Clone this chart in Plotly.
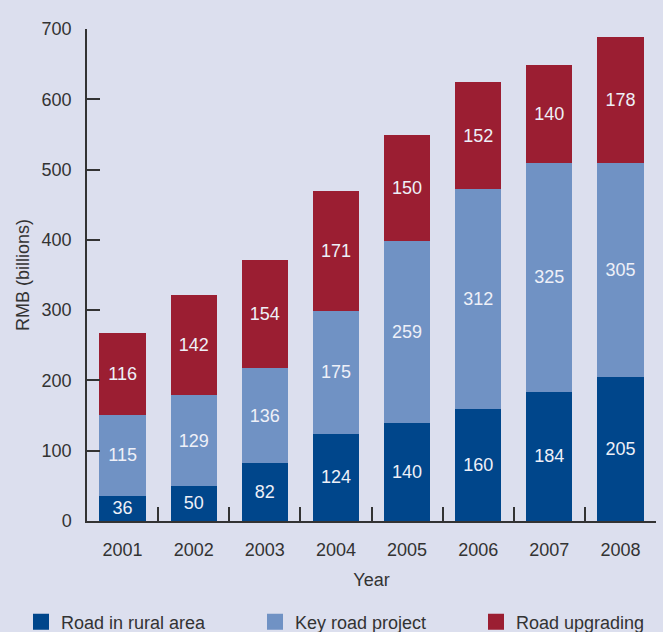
import plotly.graph_objects as go

years = ["2001", "2002", "2003", "2004", "2005", "2006", "2007", "2008"]
rural = [36, 50, 82, 124, 140, 160, 184, 205]
key_project = [115, 129, 136, 175, 259, 312, 325, 305]
upgrading = [116, 142, 154, 171, 150, 152, 140, 178]

series = [
    ("Road in rural area", rural, "#00468b"),
    ("Key road project", key_project, "#7092c4"),
    ("Road upgrading", upgrading, "#9b1e32"),
]
legend_ids = ["legend", "legend2", "legend3"]
legend_x = [21, 255, 476]  # px from the left edge of the page

BG = "#dcdfee"
FONT = "Liberation Sans, Arial, sans-serif"
TXT = "#333333"
FS = 18
W, H = 663, 632

fig = go.Figure()
for (name, vals, color), lid in zip(series, legend_ids):
    fig.add_trace(go.Bar(
        x=years, y=vals, name=name, marker=dict(color=color, line=dict(width=0)),
        text=[str(v) for v in vals], textposition="inside", insidetextanchor="middle",
        textangle=0, constraintext="none",
        textfont=dict(family=FONT, size=FS, color="#eef0f8"),
        showlegend=False, width=0.65,
    ))
    # square legend swatch
    fig.add_trace(go.Scatter(
        x=[None], y=[None], mode="markers", name=name, legend=lid,
        marker=dict(symbol="square", size=16, color=color),
    ))

legend_style = {}
for lid, lx in zip(legend_ids, legend_x):
    legend_style[lid] = dict(
        orientation="h", xref="container", yref="container",
        x=lx / W, xanchor="left", y=(H - 622) / H, yanchor="middle",
        bgcolor="rgba(0,0,0,0)", font=dict(size=FS, color=TXT),
        itemsizing="trace",
    )

fig.update_layout(
    barmode="stack",
    width=W, height=H,
    paper_bgcolor=BG, plot_bgcolor=BG,
    margin=dict(l=87, r=7, t=29, b=111),
    font=dict(family=FONT, size=FS, color=TXT),
    uniformtext=dict(minsize=FS, mode="show"),
    xaxis=dict(
        type="category", showline=True, linecolor="#333333", linewidth=1.5,
        ticks="inside", tickson="boundaries", ticklen=14, tickcolor="#333333",
        tickwidth=1.5, showgrid=False, ticklabelstandoff=12, automargin=False,
        title=dict(text="Year", font=dict(size=FS, color=TXT), standoff=14),
        range=[-0.5, 7.5], tickfont=dict(size=FS, color=TXT),
    ),
    yaxis=dict(
        range=[0, 700], dtick=100, showline=True, linecolor="#333333", linewidth=1.5,
        ticks="inside", ticklen=13, tickcolor="#333333", tickwidth=1.5,
        showgrid=False, zeroline=False, ticklabelstandoff=10, automargin=False,
        title=dict(text="RMB (billions)", font=dict(size=FS, color=TXT), standoff=7),
        tickfont=dict(size=FS, color=TXT),
    ),
    **legend_style,
)

fig.write_html("out.html")
